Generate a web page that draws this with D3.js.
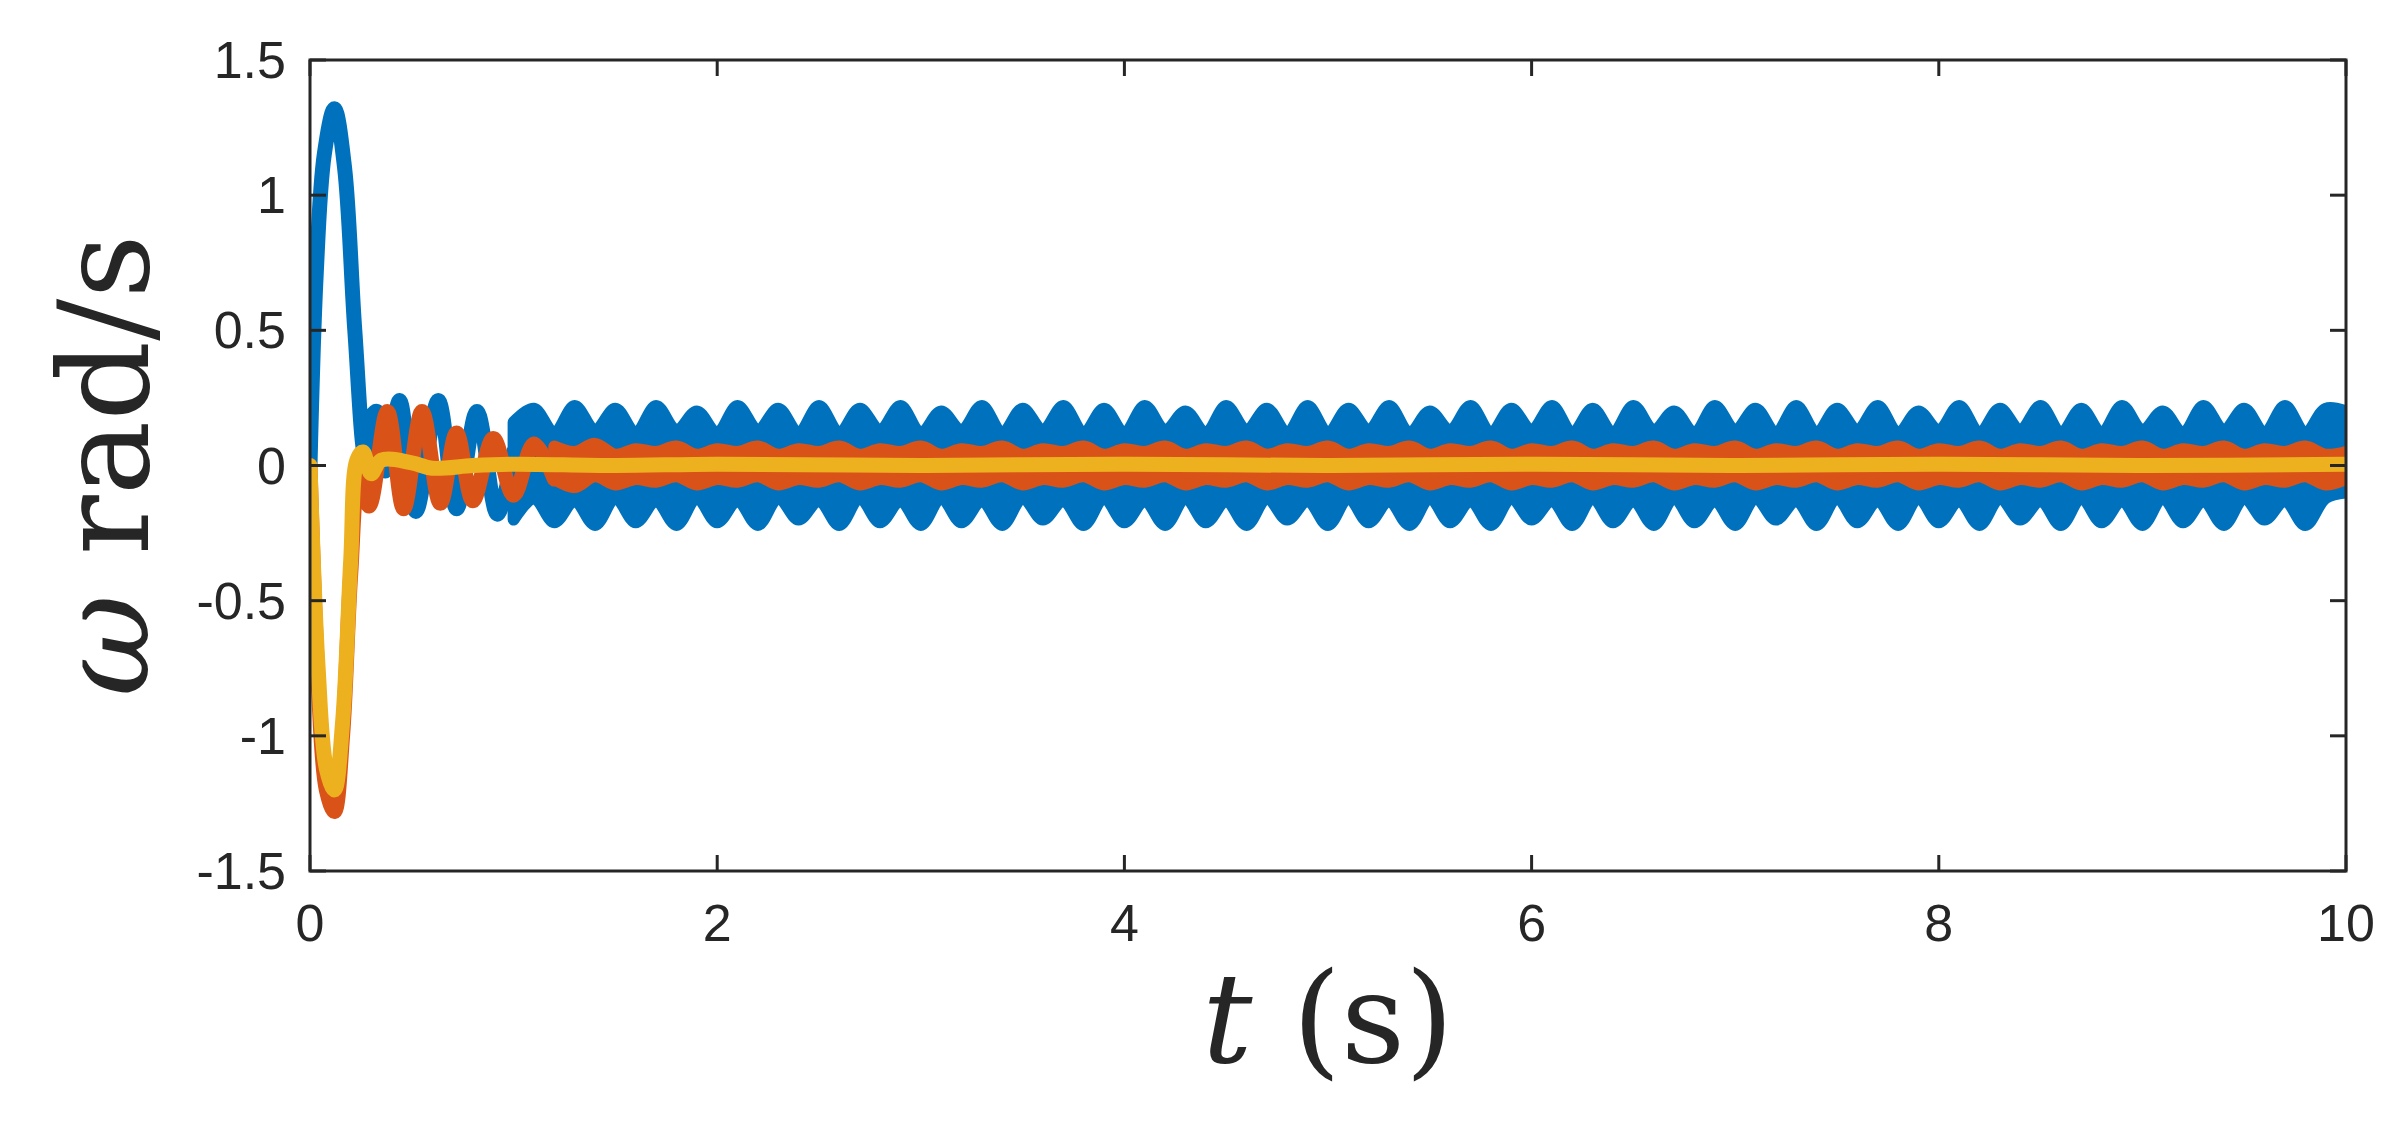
<!DOCTYPE html>
<html><head><meta charset="utf-8">
<script src="https://cdn.jsdelivr.net/npm/d3@7"></script>
<style>body{margin:0;background:#fff}</style>
</head><body>
<svg id="chart" width="2396" height="1142"></svg>
<script>
// axis ticks
const xTicks = [0, 2, 4, 6, 8, 10];
const yTicks = [-1.5, -1, -0.5, 0, 0.5, 1, 1.5];

// transient part of each signal
const blueHeadT = [0, 0.03, 0.07, 0.12, 0.17, 0.22, 0.27, 0.3, 0.33, 0.37, 0.44, 0.52, 0.63, 0.72, 0.82, 0.92, 1.0];
const blueHeadV = [0, 0.7, 1.15, 1.32, 1.1, 0.5, 0.04, 0.18, 0.2, -0.02, 0.24, -0.17, 0.24, -0.16, 0.2, -0.18, 0.05];
// steady band of blue: upper and lower envelope, one value every 0.1 s from t=1.0
const blueUpper = [0.16, 0.21, 0.12, 0.22, 0.13, 0.21, 0.12, 0.22, 0.13, 0.2, 0.12, 0.22, 0.13, 0.21, 0.12, 0.22,
  0.12, 0.21, 0.13, 0.22, 0.12, 0.2, 0.13, 0.22, 0.12, 0.21, 0.13, 0.22, 0.12, 0.21, 0.12, 0.22, 0.13, 0.2,
  0.12, 0.22, 0.13, 0.21, 0.12, 0.22, 0.12, 0.21, 0.13, 0.22, 0.12, 0.2, 0.13, 0.22, 0.12, 0.21, 0.13, 0.22,
  0.12, 0.21, 0.12, 0.22, 0.13, 0.2, 0.12, 0.22, 0.13, 0.21, 0.12, 0.22, 0.12, 0.21, 0.13, 0.22, 0.12, 0.2,
  0.13, 0.22, 0.12, 0.21, 0.13, 0.22, 0.12, 0.21, 0.12, 0.22, 0.13, 0.2, 0.12, 0.22, 0.13, 0.21, 0.12, 0.22, 0.12, 0.21, 0.2];
const blueLower = [-0.2, -0.12, -0.21, -0.13, -0.22, -0.12, -0.21, -0.13, -0.22, -0.12, -0.21, -0.13, -0.22, -0.12,
  -0.2, -0.13, -0.22, -0.12, -0.21, -0.13, -0.22, -0.12, -0.21, -0.13, -0.22, -0.12, -0.2, -0.13, -0.22, -0.12,
  -0.21, -0.13, -0.22, -0.12, -0.21, -0.13, -0.22, -0.12, -0.2, -0.13, -0.22, -0.12, -0.21, -0.13, -0.22, -0.12,
  -0.21, -0.13, -0.22, -0.12, -0.2, -0.13, -0.22, -0.12, -0.21, -0.13, -0.22, -0.12, -0.21, -0.13, -0.22, -0.12,
  -0.2, -0.13, -0.22, -0.12, -0.21, -0.13, -0.22, -0.12, -0.21, -0.13, -0.22, -0.12, -0.2, -0.13, -0.22, -0.12,
  -0.21, -0.13, -0.22, -0.12, -0.21, -0.13, -0.22, -0.12, -0.2, -0.13, -0.22, -0.12, -0.1];

const redHeadT = [0, 0.04, 0.08, 0.12, 0.16, 0.2, 0.24, 0.29, 0.38, 0.46, 0.55, 0.64, 0.72, 0.8, 0.9, 1.0, 1.1, 1.2];
const redHeadV = [0, -0.8, -1.2, -1.28, -1.0, -0.4, -0.05, -0.15, 0.2, -0.16, 0.2, -0.14, 0.12, -0.13, 0.1, -0.11, 0.08, -0.05];
// steady band of red, every 0.1 s from t=1.2
const redUpper = [0.07, 0.05, 0.08, 0.04, 0.06, 0.05, 0.07, 0.04, 0.06, 0.05, 0.07, 0.04, 0.06, 0.05, 0.07, 0.04,
  0.06, 0.05, 0.07, 0.04, 0.06, 0.05, 0.07, 0.04, 0.06, 0.05, 0.07, 0.04, 0.06, 0.05, 0.07, 0.04, 0.06, 0.05,
  0.07, 0.04, 0.06, 0.05, 0.07, 0.04, 0.06, 0.05, 0.07, 0.04, 0.06, 0.05, 0.07, 0.04, 0.06, 0.05, 0.07, 0.04,
  0.06, 0.05, 0.07, 0.04, 0.06, 0.05, 0.07, 0.04, 0.06, 0.05, 0.07, 0.04, 0.06, 0.05, 0.07, 0.04, 0.06, 0.05,
  0.07, 0.04, 0.06, 0.05, 0.07, 0.04, 0.06, 0.05, 0.07, 0.04, 0.06, 0.05, 0.07, 0.04, 0.06, 0.05, 0.07, 0.04, 0.05];
const redLower = [-0.05, -0.08, -0.04, -0.07, -0.05, -0.06, -0.04, -0.07, -0.05, -0.06, -0.04, -0.07, -0.05, -0.06,
  -0.04, -0.07, -0.05, -0.06, -0.04, -0.07, -0.05, -0.06, -0.04, -0.07, -0.05, -0.06, -0.04, -0.07, -0.05, -0.06,
  -0.04, -0.07, -0.05, -0.06, -0.04, -0.07, -0.05, -0.06, -0.04, -0.07, -0.05, -0.06, -0.04, -0.07, -0.05, -0.06,
  -0.04, -0.07, -0.05, -0.06, -0.04, -0.07, -0.05, -0.06, -0.04, -0.07, -0.05, -0.06, -0.04, -0.07, -0.05, -0.06,
  -0.04, -0.07, -0.05, -0.06, -0.04, -0.07, -0.05, -0.06, -0.04, -0.07, -0.05, -0.06, -0.04, -0.07, -0.05, -0.06,
  -0.04, -0.07, -0.05, -0.06, -0.04, -0.07, -0.05, -0.06, -0.04, -0.07, -0.05];

const yellowT = [0, 0.04, 0.08, 0.12, 0.16, 0.2, 0.23, 0.26, 0.3, 0.35, 0.5, 0.6, 0.8, 1.0, 1.5, 2, 3, 4, 5, 6, 7, 8, 9, 10];
const yellowV = [0, -0.75, -1.12, -1.2, -0.95, -0.35, 0.02, 0.05, -0.03, 0.02, 0.01, -0.01, 0, 0.005, 0, 0.005, 0, 0.005, 0, 0.005, 0, 0.005, 0, 0.005];

const W = 2396, H = 1142;
const m = {left: 310, right: 50, top: 60, bottom: 271};
const x = d3.scaleLinear().domain([0, 10]).range([m.left, W - m.right]);
const y = d3.scaleLinear().domain([-1.5, 1.5]).range([H - m.bottom, m.top]);
const svg = d3.select('#chart');

svg.append('clipPath').attr('id', 'c').append('rect')
  .attr('x', m.left).attr('y', m.top).attr('width', x(10) - m.left).attr('height', y(-1.5) - m.top);

const line = d3.line().x(d => x(d[0])).y(d => y(d[1])).curve(d3.curveCatmullRom);
const area = d3.area().x(d => x(d.t)).y0(d => y(d.lo)).y1(d => y(d.hi)).curve(d3.curveCatmullRom);
const g = svg.append('g').attr('clip-path', 'url(#c)');

function draw(headT, headV, upper, lower, start, colour) {
  g.append('path').attr('d', line(headT.map((t, i) => [t, headV[i]])))
    .attr('fill', 'none').attr('stroke', colour).attr('stroke-width', 15)
    .attr('stroke-linejoin', 'round').attr('stroke-linecap', 'round');
  if (!upper) return;
  const band = upper.map((v, i) => ({t: start + i * 0.1, hi: v, lo: lower[i]}));
  g.append('path').attr('d', area(band)).attr('fill', colour).attr('stroke', colour)
    .attr('stroke-width', 12).attr('stroke-linejoin', 'round');
}
draw(blueHeadT, blueHeadV, blueUpper, blueLower, 1.0, '#0072BD');
draw(redHeadT, redHeadV, redUpper, redLower, 1.2, '#D95319');
draw(yellowT, yellowV, null, null, 0, '#EDB120');

// box axes with inward ticks
const tl = 16, fs = 52;
const ax = svg.append('g').attr('font-family', 'Liberation Sans, Arial, sans-serif').attr('font-size', fs).attr('fill', '#262626');
ax.append('rect').attr('x', m.left).attr('y', m.top).attr('width', x(10) - m.left).attr('height', y(-1.5) - m.top)
  .attr('fill', 'none').attr('stroke', '#262626').attr('stroke-width', 3);
xTicks.forEach(t => {
  ax.append('line').attr('x1', x(t)).attr('x2', x(t)).attr('y1', y(-1.5)).attr('y2', y(-1.5) - tl).attr('stroke', '#262626').attr('stroke-width', 3);
  ax.append('line').attr('x1', x(t)).attr('x2', x(t)).attr('y1', y(1.5)).attr('y2', y(1.5) + tl).attr('stroke', '#262626').attr('stroke-width', 3);
  ax.append('text').attr('x', x(t)).attr('y', y(-1.5) + 70).attr('text-anchor', 'middle').text(t);
});
yTicks.forEach(t => {
  ax.append('line').attr('x1', x(0)).attr('x2', x(0) + tl).attr('y1', y(t)).attr('y2', y(t)).attr('stroke', '#262626').attr('stroke-width', 3);
  ax.append('line').attr('x1', x(10)).attr('x2', x(10) - tl).attr('y1', y(t)).attr('y2', y(t)).attr('stroke', '#262626').attr('stroke-width', 3);
  ax.append('text').attr('x', x(0) - 24).attr('y', y(t) + 18).attr('text-anchor', 'end').text(t);
});

const lab = svg.append('g').attr('font-family', 'DejaVu Serif, Liberation Serif, serif').attr('font-size', 125).attr('fill', '#262626');
const xl = lab.append('text').attr('x', (x(0) + x(10)) / 2).attr('y', 1062).attr('text-anchor', 'middle');
xl.append('tspan').attr('font-style', 'italic').text('t');
xl.append('tspan').text(' (s)');
const yl = lab.append('text').attr('transform', `translate(148,${(y(1.5) + y(-1.5)) / 2}) rotate(-90)`).attr('text-anchor', 'middle');
yl.append('tspan').attr('font-style', 'italic').text('ω');
yl.append('tspan').text(' rad/s');
</script>
</body></html>
